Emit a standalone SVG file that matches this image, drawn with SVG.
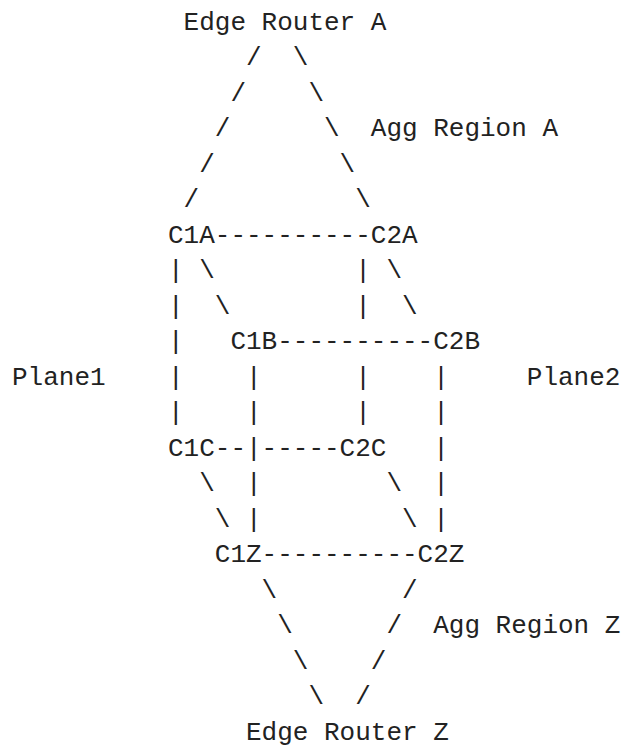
<svg xmlns="http://www.w3.org/2000/svg" width="623" height="748" viewBox="0 0 623 748">
<style>
text { font-family: "Liberation Mono", "DejaVu Sans Mono", monospace; font-size: 26px; fill: #222222; white-space: pre; }
</style>
<rect width="623" height="748" fill="#ffffff"/>
<g id="labels">
  <text x="370.8" y="136">Agg Region A</text>
  <text x="12" y="384.5">Plane1</text>
  <text x="526.8" y="384.5">Plane2</text>
  <text x="433.2" y="633">Agg Region Z</text>
</g>
<g id="edge-router-a"><text x="183.6" y="29.5">Edge Router A</text></g>
<g id="c1a"><text x="168" y="242.5">C1A</text></g>
<g id="c2a"><text x="370.8" y="242.5">C2A</text></g>
<g id="c1b"><text x="230.4" y="349">C1B</text></g>
<g id="c2b"><text x="433.2" y="349">C2B</text></g>
<g id="c1c"><text x="168" y="455.5">C1C</text></g>
<g id="c2c"><text x="339.6" y="455.5">C2C</text></g>
<g id="c1z"><text x="214.8" y="562">C1Z</text></g>
<g id="c2z"><text x="417.6" y="562">C2Z</text></g>
<g id="edge-router-z"><text x="246" y="739.5">Edge Router Z</text></g>
<g id="connectors">
  <!-- Edge Router A to C1A / C2A -->
  <text x="246" y="65">/</text><text x="292.8" y="65">\</text>
  <text x="230.4" y="100.5">/</text><text x="308.4" y="100.5">\</text>
  <text x="214.8" y="136">/</text><text x="324" y="136">\</text>
  <text x="199.2" y="171.5">/</text><text x="339.6" y="171.5">\</text>
  <text x="183.6" y="207">/</text><text x="355.2" y="207">\</text>
  <!-- C1A - C2A -->
  <text x="214.8" y="242.5">----------</text>
  <!-- rows below C1A/C2A -->
  <text x="168" y="278">|</text><text x="199.2" y="278">\</text><text x="355.2" y="278">|</text><text x="386.4" y="278">\</text>
  <text x="168" y="313.5">|</text><text x="214.8" y="313.5">\</text><text x="355.2" y="313.5">|</text><text x="402" y="313.5">\</text>
  <text x="168" y="349">|</text><text x="277.2" y="349">----------</text>
  <text x="168" y="384.5">|</text><text x="246" y="384.5">|</text><text x="355.2" y="384.5">|</text><text x="433.2" y="384.5">|</text>
  <text x="168" y="420">|</text><text x="246" y="420">|</text><text x="355.2" y="420">|</text><text x="433.2" y="420">|</text>
  <text x="214.8" y="455.5">--</text><text x="246" y="455.5">|</text><text x="261.6" y="455.5">-----</text><text x="433.2" y="455.5">|</text>
  <text x="199.2" y="491">\</text><text x="246" y="491">|</text><text x="386.4" y="491">\</text><text x="433.2" y="491">|</text>
  <text x="214.8" y="526.5">\</text><text x="246" y="526.5">|</text><text x="402" y="526.5">\</text><text x="433.2" y="526.5">|</text>
  <!-- C1Z - C2Z -->
  <text x="261.6" y="562">----------</text>
  <!-- to Edge Router Z -->
  <text x="261.6" y="597.5">\</text><text x="402" y="597.5">/</text>
  <text x="277.2" y="633">\</text><text x="386.4" y="633">/</text>
  <text x="292.8" y="668.5">\</text><text x="370.8" y="668.5">/</text>
  <text x="308.4" y="704">\</text><text x="355.2" y="704">/</text>
</g>
</svg>
